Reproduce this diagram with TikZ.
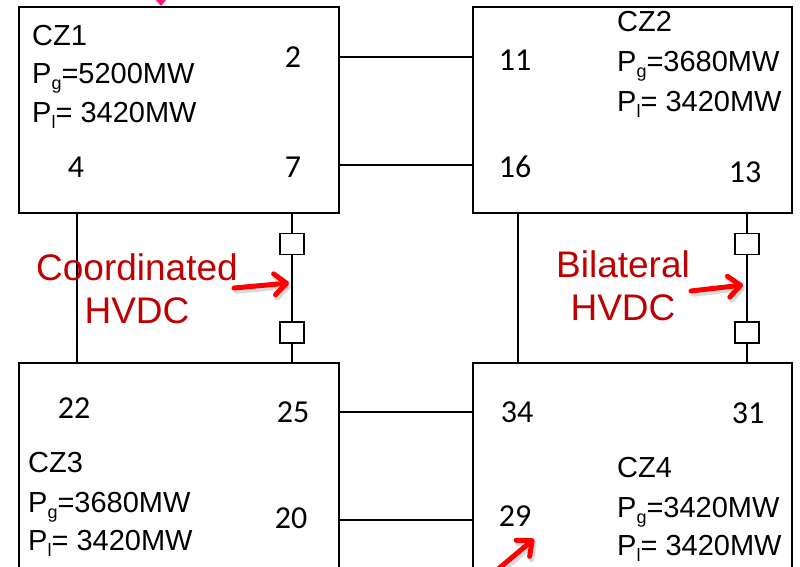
\documentclass[tikz,border=0pt]{standalone}
\usepackage{fontspec}
\setmainfont{Liberation Sans}
\newfontfamily\numfont{Carlito}
\usetikzlibrary{arrows.meta}
\definecolor{txtred}{RGB}{192,0,0}
\definecolor{arrred}{RGB}{255,0,0}
\definecolor{pinktip}{RGB}{255,20,130}
\newcommand\mysub[1]{\raisebox{-6.5pt}{\fontsize{18}{20}\selectfont #1}}
\begin{document}
\begin{tikzpicture}[x=1pt,y=-1pt,
  zone/.style={draw, line width=2.4pt, fill=white, inner sep=0pt, minimum width=320pt},
  conv/.style={draw, line width=1.8pt, fill=white, minimum width=24pt, minimum height=21pt, inner sep=0pt},
  wire/.style={line width=1.4pt},
  lbl/.style={anchor=base west, inner sep=0pt, font=\fontsize{29}{35}\selectfont},
  num/.style={anchor=base, inner sep=0pt, font=\numfont\fontsize{32}{38}\selectfont},
  redtxt/.style={anchor=base, inner sep=0pt, text=txtred, font=\fontsize{37}{44}\selectfont},
  redarrow/.style={draw=arrred, line width=5pt, line cap=round,
    -{Straight Barb[length=12pt,width=21pt,line cap=round,line join=round]}},
  arrshade/.style={draw=black, opacity=0.15, line width=5.5pt, line cap=round,
    -{Straight Barb[length=12pt,width=21pt,line cap=round,line join=round]}}
]
\useasboundingbox (0,0) rectangle (800,566);
\fill[white] (0,0) rectangle (800,566);
\clip (0,0) rectangle (800,566);

% zones
\node[zone, minimum height=206pt] (cz1) at (179,110) {};
\node[zone, minimum width=319pt, minimum height=206pt] (cz2) at (632.5,110) {};
\node[zone, minimum height=237pt] (cz3) at (179,481.5) {};
\node[zone, minimum width=319pt, minimum height=237pt] (cz4) at (632.5,481.5) {};

% pink arrow tip at top
\fill[pinktip] (156,0) -- (166,0) -- (161,6) -- cycle;

% AC tie lines
\draw[wire] (cz1.east |- 0,57) -- (cz2.west |- 0,57);
\draw[wire] (cz1.east |- 0,165) -- (cz2.west |- 0,165);
\draw[wire] (cz3.east |- 0,412) -- (cz4.west |- 0,412);
\draw[wire] (cz3.east |- 0,520) -- (cz4.west |- 0,520);
\draw[wire] (cz1.south -| 77,0) -- (cz3.north -| 77,0);
\draw[wire] (cz2.south -| 518,0) -- (cz4.north -| 518,0);

% HVDC links
\node[conv] (c1a) at (292,244) {};
\node[conv] (c1b) at (292,332.5) {};
\draw[wire] (cz1.south -| c1a) -- (c1a) -- (c1b) -- (cz3.north -| c1b);
\node[conv] (c2a) at (747,244) {};
\node[conv] (c2b) at (747,332.5) {};
\draw[wire] (cz2.south -| c2a) -- (c2a) -- (c2b) -- (cz4.north -| c2b);

% CZ1 texts
\node[lbl] (t1a) at (32,45) {CZ1};
\node[lbl] (t1b) at (32,83) {P\mysub{g}=5200MW};
\node[lbl] (t1c) at (32,122) {P\mysub{l}= 3420MW};
\node[num] (n2) at (293,67) {2};
\node[num] (n7) at (293,177) {7};
\node[num] (n4) at (76,177) {4};

% CZ2 texts
\node[lbl] (t2a) at (617,31) {CZ2};
\node[lbl] (t2b) at (617,71) {P\mysub{g}=3680MW};
\node[lbl] (t2c) at (617,111) {P\mysub{l}= 3420MW};
\node[num] (n11) at (515,70) {11};
\node[num] (n16) at (515,177) {16};
\node[num] (n13) at (745,182) {13};

% CZ3 texts
\node[num] (n22) at (74,418) {22};
\node[num] (n25) at (293,422) {25};
\node[lbl] (t3a) at (28,472) {CZ3};
\node[lbl] (t3b) at (28,512) {P\mysub{g}=3680MW};
\node[lbl] (t3c) at (28,550) {P\mysub{l}= 3420MW};
\node[num] (n20) at (291,528) {20};

% CZ4 texts
\node[num] (n34) at (517,422) {34};
\node[num] (n31) at (748,423) {31};
\node[lbl] (t4a) at (617,477) {CZ4};
\node[lbl] (t4b) at (617,517) {P\mysub{g}=3420MW};
\node[lbl] (t4c) at (617,555) {P\mysub{l}= 3420MW};
\node[num] (n29) at (515,526) {29};

% red labels
\node[redtxt] (coord) at (137,280) {Coordinated};
\node[redtxt] (coordh) at (137,323) {HVDC};
\node[redtxt] (bilat) at (623,277) {Bilateral};
\node[redtxt] (bilath) at (623,320) {HVDC};

% red arrows
\coordinate (a1s) at (234,288);
\coordinate (a1e) at (289,283);
\coordinate (a2s) at (691,291);
\coordinate (a2e) at (743,285);
\coordinate (a3s) at (497,570);
\coordinate (a3e) at (534,539);
\draw[arrshade] ([shift={(2,3)}]a1s) -- ([shift={(2,3)}]a1e);
\draw[arrshade] ([shift={(2,3)}]a2s) -- ([shift={(2,3)}]a2e);
\draw[arrshade] ([shift={(2,3)}]a3s) -- ([shift={(2,3)}]a3e);
\draw[redarrow] (a1s) -- (a1e);
\draw[redarrow] (a2s) -- (a2e);
\draw[redarrow] (a3s) -- (a3e);
\end{tikzpicture}
\end{document}
